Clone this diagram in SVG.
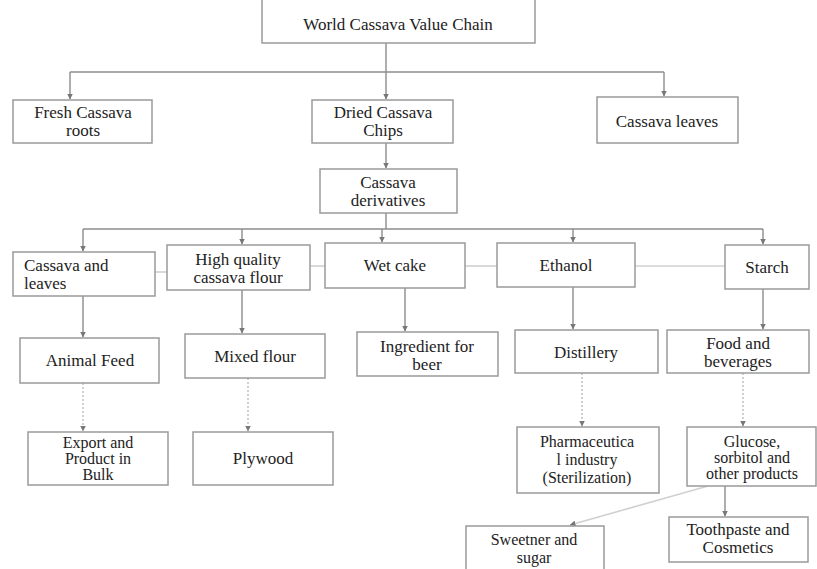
<svg xmlns="http://www.w3.org/2000/svg" width="817" height="569" viewBox="0 0 817 569">
<style>
.box{fill:#fff;stroke:#9a9a9a;stroke-width:1.5}
.t{font-family:"Liberation Serif","Times New Roman",serif;font-size:17px;fill:#222;text-anchor:middle}
.s{font-size:16px}
.tl{text-anchor:start}
.c{fill:none;stroke:#8c8c8c;stroke-width:1.4}
.d{fill:none;stroke:#bdbdbd;stroke-width:1.4;stroke-dasharray:2 2}
.h{fill:none;stroke:#d0d0d0;stroke-width:1.6}
</style>
<defs>
<marker id="ah" viewBox="0 0 6 6" refX="5.5" refY="3" markerWidth="6" markerHeight="6" markerUnits="userSpaceOnUse" orient="auto">
<path d="M0,0 L6,3 L0,6 z" fill="#777"/>
</marker>
</defs>
<rect width="817" height="569" fill="#fff"/>
<g id="connectors">
<path class="c" d="M386,43 V99" marker-end="url(#ah)"/>
<path class="c" d="M70,72 H664"/>
<path class="c" d="M70,72 V99" marker-end="url(#ah)"/>
<path class="c" d="M664,72 V96" marker-end="url(#ah)"/>
<path class="c" d="M386,143 V168" marker-end="url(#ah)"/>
<path class="c" d="M386,213 V229"/>
<path class="c" d="M83,229 H763"/>
<path class="c" d="M83,229 V251" marker-end="url(#ah)"/>
<path class="c" d="M242,229 V244" marker-end="url(#ah)"/>
<path class="c" d="M382,229 V242" marker-end="url(#ah)"/>
<path class="c" d="M573,229 V242" marker-end="url(#ah)"/>
<path class="c" d="M763,229 V244" marker-end="url(#ah)"/>
<path class="h" d="M155,272 H167"/>
<path class="h" d="M310,266 H325"/>
<path class="h" d="M465,266 H497"/>
<path class="h" d="M635,266 H725"/>
<path class="c" d="M83,296 V337" marker-end="url(#ah)"/>
<path class="c" d="M242,290 V333" marker-end="url(#ah)"/>
<path class="c" d="M405,288 V331" marker-end="url(#ah)"/>
<path class="c" d="M573,287 V329" marker-end="url(#ah)"/>
<path class="c" d="M763,289 V329" marker-end="url(#ah)"/>
<path class="d" d="M83,383 V431" marker-end="url(#ah)"/>
<path class="d" d="M248,378 V431" marker-end="url(#ah)"/>
<path class="d" d="M582,373 V426" marker-end="url(#ah)"/>
<path class="d" d="M743,373 V426" marker-end="url(#ah)"/>
<path class="h" d="M708,486 L570,525" marker-end="url(#ah)"/>
<path class="c" d="M725,486 V516" marker-end="url(#ah)"/>
</g>
<g id="n-world"><rect class="box" x="262" y="-2" width="273" height="45"/><text class="t" x="398" y="30">World Cassava Value Chain</text></g>
<g id="n-fresh"><rect class="box" x="13" y="100" width="139" height="43"/><text class="t" x="83" y="118">Fresh Cassava</text><text class="t" x="83" y="136">roots</text></g>
<g id="n-dried"><rect class="box" x="312" y="100" width="141" height="43"/><text class="t" x="383" y="118">Dried Cassava</text><text class="t" x="383" y="136">Chips</text></g>
<g id="n-leaves"><rect class="box" x="597" y="97" width="141" height="46"/><text class="t" x="667" y="127">Cassava leaves</text></g>
<g id="n-deriv"><rect class="box" x="320" y="169" width="137" height="44"/><text class="t" x="388" y="188">Cassava</text><text class="t" x="388" y="206">derivatives</text></g>
<g id="n-cal"><rect class="box" x="13" y="252" width="142" height="44"/><text class="t tl" x="24" y="271">Cassava and</text><text class="t tl" x="24" y="289">leaves</text></g>
<g id="n-hq"><rect class="box" x="167" y="245" width="143" height="45"/><text class="t" x="238" y="265">High quality</text><text class="t" x="238" y="283">cassava flour</text></g>
<g id="n-wet"><rect class="box" x="325" y="243" width="140" height="45"/><text class="t" x="395" y="271">Wet cake</text></g>
<g id="n-eth"><rect class="box" x="497" y="243" width="138" height="44"/><text class="t" x="566" y="271">Ethanol</text></g>
<g id="n-starch"><rect class="box" x="725" y="245" width="84" height="44"/><text class="t" x="767" y="273">Starch</text></g>
<g id="n-animal"><rect class="box" x="20" y="338" width="139" height="45"/><text class="t" x="90" y="366">Animal Feed</text></g>
<g id="n-mixed"><rect class="box" x="185" y="334" width="140" height="44"/><text class="t" x="255" y="362">Mixed flour</text></g>
<g id="n-beer"><rect class="box" x="357" y="332" width="141" height="44"/><text class="t" x="427" y="352">Ingredient for</text><text class="t" x="427" y="370">beer</text></g>
<g id="n-dist"><rect class="box" x="515" y="330" width="143" height="43"/><text class="t" x="586" y="358">Distillery</text></g>
<g id="n-food"><rect class="box" x="667" y="330" width="142" height="43"/><text class="t" x="738" y="349">Food and</text><text class="t" x="738" y="367">beverages</text></g>
<g id="n-export"><rect class="box" x="28" y="432" width="140" height="53"/><text class="t s" x="98" y="448">Export and</text><text class="t s" x="98" y="464">Product in</text><text class="t s" x="98" y="480">Bulk</text></g>
<g id="n-ply"><rect class="box" x="193" y="432" width="140" height="53"/><text class="t" x="263" y="464">Plywood</text></g>
<g id="n-pharma"><rect class="box" x="517" y="427" width="142" height="66"/><text class="t s" x="587" y="447">Pharmaceutica</text><text class="t s" x="587" y="465">l industry</text><text class="t s" x="587" y="483">(Sterilization)</text></g>
<g id="n-glucose"><rect class="box" x="687" y="427" width="129" height="59"/><text class="t s" x="752" y="447">Glucose,</text><text class="t s" x="752" y="463">sorbitol and</text><text class="t s" x="752" y="479">other products</text></g>
<g id="n-sweet"><rect class="box" x="466" y="526" width="138" height="48"/><text class="t s" x="534" y="545">Sweetner and</text><text class="t s" x="534" y="563">sugar</text></g>
<g id="n-tooth"><rect class="box" x="669" y="517" width="139" height="45"/><text class="t" x="738" y="535">Toothpaste and</text><text class="t" x="738" y="553">Cosmetics</text></g>
</svg>
